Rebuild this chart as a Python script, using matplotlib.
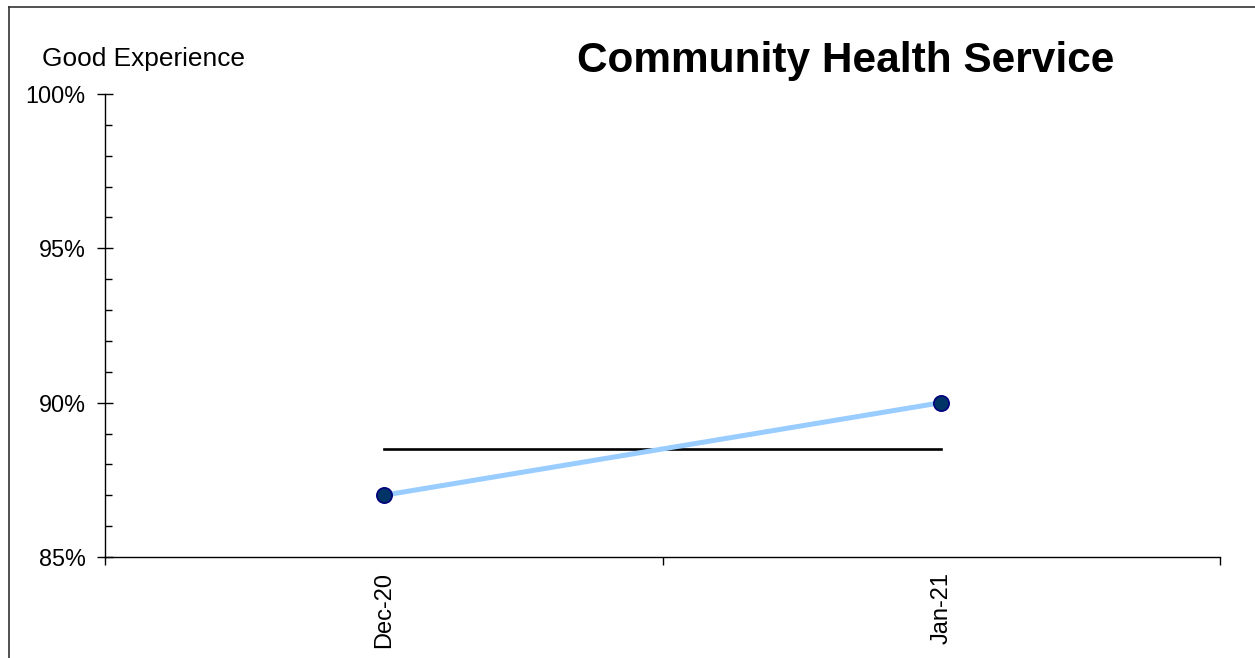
import matplotlib
matplotlib.use("Agg")
import matplotlib.pyplot as plt
from matplotlib.lines import Line2D
from matplotlib.ticker import FixedLocator, PercentFormatter

plt.rcParams['font.family'] = ['Liberation Sans', 'DejaVu Sans']

categories = ["Dec-20", "Jan-21"]
good_experience = [87.0, 90.0]
average = [88.5, 88.5]
y_ticks = [85, 90, 95, 100]
title = "Community Health Service"
ylabel = "Good Experience"

fig = plt.figure(figsize=(12.55, 6.58), dpi=100)
ax = fig.add_axes([105/1255, 1-557/658, (1220-105)/1255, (557-94)/658])

x = list(range(len(categories)))
ax.plot(x, average, color="black", linewidth=1.9, zorder=2)
ax.plot(x, good_experience, color="#99CCFF", linewidth=3.6, zorder=3,
        marker="o", markersize=11, markerfacecolor="#003366",
        markeredgecolor="#000080", markeredgewidth=1.2)

ax.set_xlim(-0.5, len(categories) - 0.5)
ax.set_ylim(85, 100)

for s in ["top", "right"]:
    ax.spines[s].set_visible(False)
for s in ["left", "bottom"]:
    ax.spines[s].set_linewidth(1.0)
    ax.spines[s].set_color("black")

# y axis
ax.yaxis.set_major_locator(FixedLocator(y_ticks))
ax.yaxis.set_minor_locator(FixedLocator([v for v in range(85, 101) if v % 5]))
ax.yaxis.set_major_formatter(PercentFormatter(decimals=0))
ax.tick_params(axis="y", which="major", direction="inout", length=12, width=1,
               labelsize=16.8, pad=8)
ax.tick_params(axis="y", which="minor", direction="in", length=5, width=1)

# x axis: boundaries ticks, labels centered on categories
ax.set_xticks([i - 0.5 for i in range(len(categories) + 1)])
ax.set_xticklabels([""] * (len(categories) + 1))
ax.set_xticks(x, minor=True)
ax.set_xticklabels(categories, minor=True, rotation=90, fontsize=17)
ax.tick_params(axis="x", which="major", direction="out", length=6, width=1)
ax.tick_params(axis="x", which="minor", length=0, pad=11)

fig.text(846/1255, 1-61/658, title, fontsize=30.5, fontweight="bold",
         ha="center", va="center")
fig.text(42/1255, 1-59/658, ylabel, fontsize=18.9, ha="left", va="center")

# outer frame (left and top edges visible)
fig.add_artist(Line2D([9/1255, 9/1255], [0, 1-7/658], color="#333333", linewidth=1.2,
                      transform=fig.transFigure))
fig.add_artist(Line2D([9/1255, 1], [1-7/658, 1-7/658], color="#333333", linewidth=1.2,
                      transform=fig.transFigure))

fig.savefig("out.png", dpi=100)
